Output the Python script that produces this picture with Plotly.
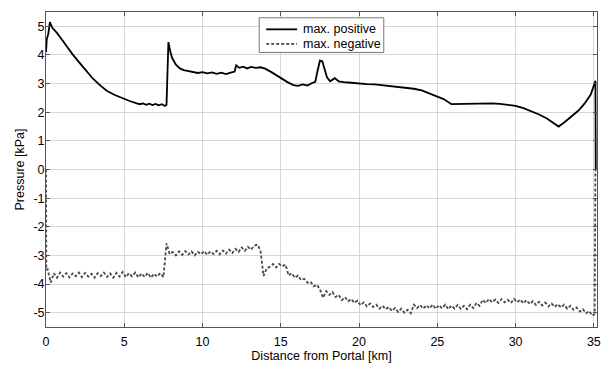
import numpy as np
import plotly.graph_objects as go

# Maximum positive pressure along the tunnel (km, kPa)
pos_km = [0.0, 0.05, 0.15, 0.25, 0.4, 0.7, 1.0, 1.3, 1.7, 2.2, 2.7, 3.0, 3.5, 3.9,
          4.4, 4.9, 5.3, 5.8, 6.0, 6.2, 6.4, 6.6, 6.8, 7.0, 7.2, 7.4, 7.6, 7.7,
          7.82, 7.95, 8.05, 8.3, 8.55, 8.8, 9.1, 9.4, 9.7, 10.0, 10.3, 10.6, 10.9,
          11.2, 11.5, 11.8, 12.05, 12.15, 12.35, 12.6, 12.85, 13.1, 13.4, 13.7,
          14.0, 14.4, 14.9, 15.4, 15.8, 16.1, 16.4, 16.7, 17.0, 17.2, 17.35, 17.5,
          17.65, 17.8, 17.95, 18.15, 18.45, 18.7, 19.0, 19.5, 20.0, 20.5, 21.0,
          21.5, 22.0, 22.5, 23.0, 23.5, 24.0, 24.5, 25.0, 25.4, 25.9, 26.5, 27.0,
          27.5, 28.0, 28.5, 29.0, 29.5, 30.0, 30.5, 31.0, 31.5, 32.0, 32.4, 32.75,
          33.1, 33.5, 34.0, 34.4, 34.8, 35.1, 35.12]
pos_kpa = [4.10, 4.55, 4.75, 5.15, 4.95, 4.77, 4.55, 4.32, 4.02, 3.69, 3.38, 3.17,
           2.92, 2.74, 2.60, 2.48, 2.40, 2.31, 2.28, 2.31, 2.26, 2.30, 2.25, 2.29,
           2.24, 2.28, 2.22, 2.26, 4.45, 4.10, 3.90, 3.66, 3.53, 3.47, 3.43, 3.40,
           3.37, 3.40, 3.36, 3.39, 3.34, 3.38, 3.33, 3.38, 3.42, 3.64, 3.55, 3.59,
           3.53, 3.58, 3.55, 3.57, 3.52, 3.40, 3.22, 3.06, 2.95, 2.92, 2.97, 2.93,
           3.02, 3.06, 3.45, 3.80, 3.78, 3.50, 3.22, 3.08, 3.19, 3.08, 3.05, 3.03,
           3.00, 2.98, 2.97, 2.94, 2.93, 2.89, 2.86, 2.82, 2.76, 2.66, 2.56, 2.46,
           2.28, 2.29, 2.30, 2.30, 2.31, 2.31, 2.29, 2.26, 2.22, 2.14, 2.04, 1.92,
           1.78, 1.63, 1.50, 1.64, 1.82, 2.05, 2.30, 2.62, 3.10, 0.00]

# Maximum negative pressure, sampled every 0.2 km from 0.1 km
neg_samples = [
    -3.48, -3.95, -3.62, -3.78, -3.60, -3.74, -3.62, -3.77, -3.63, -3.73,
    -3.60, -3.76, -3.61, -3.74, -3.64, -3.78, -3.62, -3.72, -3.60, -3.75,
    -3.63, -3.78, -3.61, -3.74, -3.58, -3.76, -3.62, -3.73, -3.60, -3.77,
    -3.63, -3.75, -3.61, -3.78, -3.64, -3.74, -3.62, -3.76, -2.58, -2.95,
    -2.88, -3.00, -2.86, -2.98, -2.85, -2.97, -2.86, -3.00, -2.87, -2.96,
    -2.85, -2.98, -2.86, -2.95, -2.84, -2.96, -2.83, -2.94, -2.80, -2.92,
    -2.77, -2.88, -2.72, -2.84, -2.70, -2.80, -2.66, -2.62, -2.82, -3.72,
    -3.45, -3.40, -3.30, -3.42, -3.30, -3.38, -3.32, -3.70, -3.62, -3.78,
    -3.70, -3.86, -3.82, -3.95, -3.92, -4.08, -4.02, -4.18, -4.48, -4.25,
    -4.38, -4.28, -4.45, -4.38, -4.56, -4.46, -4.60, -4.52, -4.66, -4.58,
    -4.74, -4.64, -4.78, -4.68, -4.80, -4.72, -4.86, -4.76, -4.88, -4.80,
    -4.94, -4.84, -4.98, -4.86, -5.00, -4.90, -5.02, -4.72, -4.84, -4.73,
    -4.86, -4.74, -4.85, -4.72, -4.87, -4.74, -4.85, -4.72, -4.88, -4.75,
    -4.86, -4.73, -4.87, -4.76, -4.88, -4.72, -4.84, -4.66, -4.76, -4.55,
    -4.66, -4.52, -4.64, -4.54, -4.66, -4.53, -4.64, -4.55, -4.66, -4.52,
    -4.64, -4.54, -4.67, -4.56, -4.70, -4.60, -4.73, -4.62, -4.75, -4.65,
    -4.78, -4.68, -4.80, -4.70, -4.82, -4.72, -4.86, -4.76, -4.90, -4.82,
    -4.96, -4.88, -5.02, -4.94, -5.10,
]
neg_start_km = [0.0, 0.02]
neg_start_kpa = [0.0, -3.50]
neg_end_km = [35.05, 35.1]
neg_end_kpa = [-5.05, 0.0]

neg_km = neg_start_km + list(np.round(0.1 + 0.2 * np.arange(len(neg_samples)), 2)) + neg_end_km
neg_kpa = neg_start_kpa + neg_samples + neg_end_kpa

x_ticks = [0, 5, 10, 15, 20, 25, 30, 35]
y_ticks = [-5, -4, -3, -2, -1, 0, 1, 2, 3, 4, 5]
y_tick_text = ["-5", "-4", "-3", "-2", "-1", "0", "1", "2", "3", "4", "5"]

series_names = ["max. positive", "max. negative"]
series_colors = ["black", "#4a4a4a"]
series_dash = ["solid", "3px,2px"]

FONT = "Liberation Sans, Arial, Helvetica, sans-serif"
FS = 12.5

fig = go.Figure()
fig.add_trace(go.Scatter(x=pos_km, y=pos_kpa, mode="lines", name=series_names[0],
                         line=dict(color=series_colors[0], width=1.8, dash=series_dash[0])))
fig.add_trace(go.Scatter(x=neg_km, y=neg_kpa, mode="lines", name=series_names[1],
                         line=dict(color=series_colors[1], width=1.8, dash=series_dash[1])))

axis_common = dict(
    showgrid=True, gridcolor="#d6d6d6", gridwidth=1,
    zeroline=False, showline=True, linecolor="#555555", linewidth=1,
    mirror="ticks", ticks="inside", ticklen=4, tickcolor="#555555",
    tickfont=dict(family=FONT, size=FS, color="black"),
)

fig.update_xaxes(range=[0, 35.2], tickvals=x_ticks, ticklabelstandoff=3,
                 title=dict(text="Distance from Portal [km]", standoff=2,
                            font=dict(family=FONT, size=FS, color="black")),
                 **axis_common)
fig.update_yaxes(range=[-5.5, 5.5], tickvals=y_ticks, ticktext=y_tick_text,
                 ticklabelstandoff=-2,
                 title=dict(text="Pressure [kPa]", standoff=6,
                            font=dict(family=FONT, size=FS, color="black")),
                 **axis_common)

# Compact boxed key in the upper middle of the axes (paper coordinates)
plot_l, plot_r, plot_t, plot_b = 46, 599, 11, 338
W, H = 612, 371


def px_to_paper(px, py):
    return (px - plot_l) / (plot_r - plot_l), (plot_b - py) / (plot_b - plot_t)


bx0, by0 = px_to_paper(260, 53)
bx1, by1 = px_to_paper(385, 17)
fig.add_shape(type="rect", xref="paper", yref="paper", x0=bx0, y0=by0, x1=bx1, y1=by1,
              line=dict(color="#777777", width=1), fillcolor="white", layer="above")
for i, name in enumerate(series_names):
    row_y = 29 + 15 * i
    lx0, ly = px_to_paper(267, row_y)
    lx1, _ = px_to_paper(298, row_y)
    fig.add_shape(type="line", xref="paper", yref="paper", x0=lx0, x1=lx1, y0=ly, y1=ly,
                  line=dict(color=series_colors[i], width=1.8, dash=series_dash[i]),
                  layer="above")
    tx, _ = px_to_paper(302, row_y)
    fig.add_annotation(xref="paper", yref="paper", x=tx, y=ly, text=name,
                       showarrow=False, xanchor="left", yanchor="middle",
                       font=dict(family=FONT, size=FS, color="black"))

fig.update_layout(
    width=W, height=H,
    margin=dict(l=plot_l, r=W - plot_r, t=plot_t, b=H - plot_b),
    plot_bgcolor="white", paper_bgcolor="white",
    font=dict(family=FONT, size=FS, color="black"),
    showlegend=False,
)

fig.write_html("out.html")
